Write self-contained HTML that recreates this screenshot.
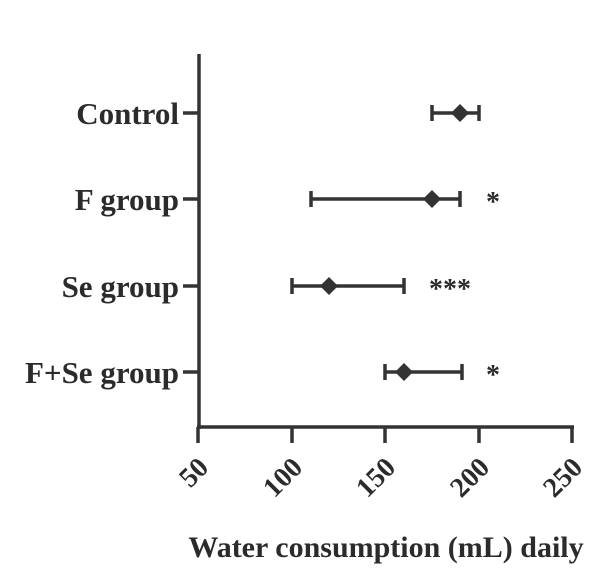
<!DOCTYPE html>
<html><head><style>body{margin:0;background:#fff}svg{display:block}text{font-family:"Liberation Serif",serif;font-weight:bold;fill:#2b2b2b}</style></head>
<body><svg width="602" height="581" viewBox="0 0 602 581">
<g stroke="#333" stroke-width="3.5" fill="none">
<line x1="199" y1="54" x2="199" y2="429"/>
<line x1="197" y1="427" x2="574" y2="427"/>
<line x1="198" y1="427" x2="198" y2="443"/>
<line x1="292" y1="427" x2="292" y2="443"/>
<line x1="385" y1="427" x2="385" y2="443"/>
<line x1="479" y1="427" x2="479" y2="443"/>
<line x1="572" y1="427" x2="572" y2="443"/>
<line x1="183" y1="113" x2="199" y2="113"/>
<line x1="183" y1="199" x2="199" y2="199"/>
<line x1="183" y1="286" x2="199" y2="286"/>
<line x1="183" y1="372" x2="199" y2="372"/>
<path d="M432 113H479M432 105V121M479 105V121"/>
<path d="M311 199H460M311 191V207M460 191V207"/>
<path d="M292 286H404M292 278V294M404 278V294"/>
<path d="M385 372H462M385 364V380M462 364V380"/>
</g>
<g fill="#333">
<path d="M460 104L469 113L460 122L451 113Z"/>
<path d="M432 190L441 199L432 208L423 199Z"/>
<path d="M329 277L338 286L329 295L320 286Z"/>
<path d="M404 363L413 372L404 381L395 372Z"/>
</g>
<g font-size="31" text-anchor="end">
<text x="179" y="124">Control</text>
<text x="179" y="210">F group</text>
<text x="179" y="297">Se group</text>
<text x="179" y="383">F+Se group</text>
</g>
<g font-size="28" text-anchor="middle" style="font-weight:normal">
<text x="493" y="211">*</text>
<text x="450" y="298">***</text>
<text x="493" y="384">*</text>
</g>
<g font-size="28" text-anchor="end">
<text transform="translate(210,469) rotate(-45)">50</text>
<text transform="translate(304,469) rotate(-45)">100</text>
<text transform="translate(397,469) rotate(-45)">150</text>
<text transform="translate(491,469) rotate(-45)">200</text>
<text transform="translate(584,469) rotate(-45)">250</text>
</g>
<text x="386" y="557" font-size="30" text-anchor="middle">Water consumption (mL) daily</text>
</svg></body></html>
